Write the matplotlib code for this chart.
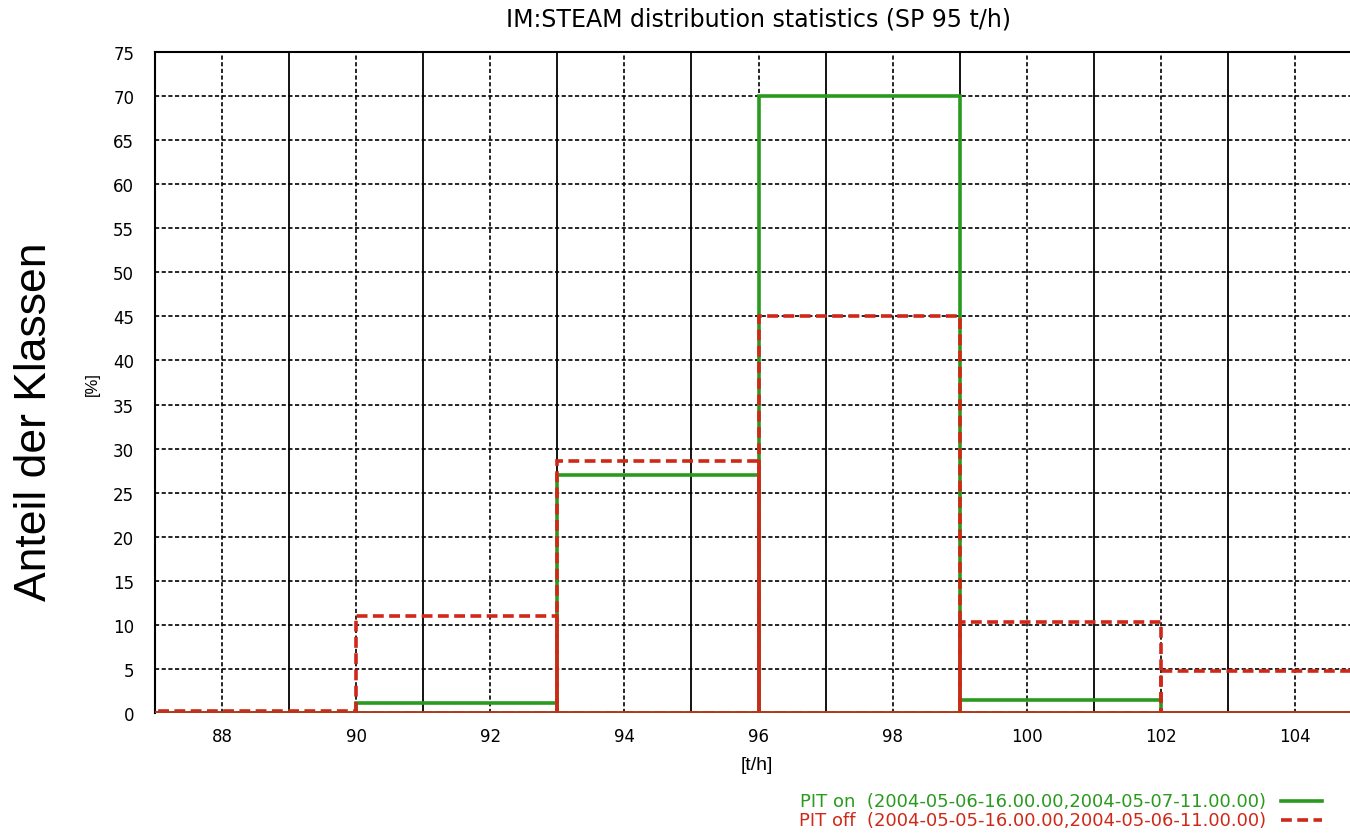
import matplotlib
matplotlib.use("Agg")
import matplotlib.pyplot as plt
from matplotlib.lines import Line2D

plt.rcParams['font.family'] = ['DejaVu Sans']

bin_edges = [87, 90, 93, 96, 99, 102, 105]
pit_on = [0.0, 1.1, 27.0, 70.0, 1.5, 0.0]
pit_off = [0.2, 11.0, 28.6, 45.0, 10.3, 4.8]
x_ticks = [88, 90, 92, 94, 96, 98, 100, 102, 104]
y_ticks = [0, 5, 10, 15, 20, 25, 30, 35, 40, 45, 50, 55, 60, 65, 70, 75]
label_on = "PIT on  (2004-05-06-16.00.00,2004-05-07-11.00.00)"
label_off = "PIT off  (2004-05-05-16.00.00,2004-05-06-11.00.00)"
title = "IM:STEAM distribution statistics (SP 95 t/h)"

W, H = 1350, 837
fig = plt.figure(figsize=(W / 100, H / 100), dpi=100)
ax = fig.add_axes([155 / W, (H - 714) / H, (W - 155) / W, (714 - 53) / H])

ax.set_xlim(87, 87 + (W - 155) / 67.06)
ax.set_ylim(0, 75)

# grid
for x in range(88, 105):
    if x % 2 == 1:
        ax.axvline(x, color='black', lw=1.3, zorder=1)
    else:
        ax.axvline(x, color='black', lw=1.2, ls=(0, (2.5, 1.5)), zorder=1)
for y in y_ticks[1:-1]:
    ax.axhline(y, color='black', lw=1.2, ls=(0, (2.5, 1.5)), zorder=1)

green = '#2a9a1e'
red = '#d02818'

lefts = bin_edges[:-1]
widths = [b - a for a, b in zip(bin_edges[:-1], bin_edges[1:])]
ax.bar(lefts, pit_on, width=widths, align='edge', fill=False,
       edgecolor=green, linewidth=2.6, zorder=3)
ax.bar(lefts, pit_off, width=widths, align='edge', fill=False,
       edgecolor=red, linewidth=2.6, linestyle=(0, (3, 1.5)), zorder=4)
ax.axhline(0, color='#b03a1a', lw=2.6, zorder=5)

ax.set_xticks(x_ticks)
ax.set_yticks(y_ticks)
ax.tick_params(length=0, labelsize=12)
ax.tick_params(axis='x', pad=10)
ax.tick_params(axis='y', pad=15)
for s in ['right', 'bottom']:
    ax.spines[s].set_visible(False)
ax.spines['left'].set_linewidth(1.5)
ax.spines['top'].set_linewidth(1.5)

fig.text(758 / W, 1 - 20 / H, title, ha='center', va='center', fontsize=17)
fig.text(757 / W, 1 - 766 / H, "[t/h]", ha='center', va='center', fontsize=14,
         family='Liberation Sans')
fig.text(92 / W, 1 - 384 / H, "[%]", ha='center', va='center', fontsize=12, rotation=90,
         family='Liberation Sans')
fig.text(35 / W, 1 - 422 / H, "Anteil der Klassen", ha='center', va='center',
         fontsize=32, rotation=90, family='Liberation Sans')

fig.text(1266 / W, 1 - 802 / H, label_on, ha='right', va='center', fontsize=13, color=green)
fig.text(1266 / W, 1 - 821 / H, label_off, ha='right', va='center', fontsize=13, color=red)
fig.add_artist(Line2D([1281 / W, 1322 / W], [1 - 802 / H, 1 - 802 / H], color=green, lw=2.6))
fig.add_artist(Line2D([1281 / W, 1322 / W], [1 - 821 / H, 1 - 821 / H], color=red, lw=2.6,
                      ls=(0, (3, 1.5))))

fig.savefig("out.png", dpi=100)
